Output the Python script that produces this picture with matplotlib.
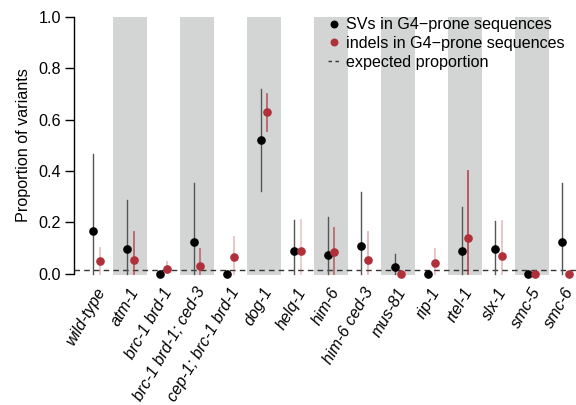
import matplotlib
matplotlib.use("Agg")
import matplotlib.pyplot as plt
import matplotlib.transforms as mtransforms
import numpy as np

plt.rcParams['font.family'] = ['Liberation Sans', 'DejaVu Sans']

genotypes = ['wild-type', 'atm-1', 'brc-1 brd-1', 'brc-1 brd-1; ced-3',
             'cep-1; brc-1 brd-1', 'dog-1', 'helq-1', 'him-6', 'him-6 ced-3',
             'mus-81', 'rip-1', 'rtel-1', 'slx-1', 'smc-5', 'smc-6']

# SVs in G4-prone sequences: proportion and interval
sv_prop = [0.165, 0.098, 0.0, 0.126, 0.0, 0.519, 0.091, 0.075, 0.110,
           0.028, 0.0, 0.091, 0.098, 0.0, 0.125]
sv_low = [0.0, 0.0, 0.0, 0.0, 0.0, 0.323, 0.0, 0.0, 0.0,
          0.0, 0.0, 0.0, 0.0, 0.0, 0.0]
sv_high = [0.466, 0.288, 0.0, 0.355, 0.0, 0.719, 0.210, 0.222, 0.318,
           0.078, 0.0, 0.262, 0.207, 0.0, 0.355]

# indels in G4-prone sequences
indel_prop = [0.052, 0.056, 0.018, 0.032, 0.067, 0.628, 0.091, 0.087, 0.056,
              0.0, 0.042, 0.141, 0.071, 0.0, 0.0]
indel_low = [0.0, 0.0, 0.003, 0.0, 0.0, 0.556, 0.0, 0.0, 0.0,
             0.0, 0.0, 0.0, 0.0, 0.0, 0.0]
indel_high = [0.100, 0.162, 0.047, 0.098, 0.145, 0.700, 0.210, 0.178, 0.162,
              0.0, 0.097, 0.402, 0.207, 0.0, 0.0]
indel_alpha = [0.3, 0.7, 0.3, 0.6, 0.3, 0.7, 0.25, 0.65, 0.35,
               0.3, 0.3, 0.8, 0.3, 0.3, 0.3]

expected = 0.016

red = '#b0303a'
band = '#d3d4d4'
fs = 11.6

fig = plt.figure(figsize=(5.76, 4.05), dpi=100)
ax = fig.add_axes([74/576, 0.3109, 1 - 74/576, 0.6607])

x = np.arange(len(genotypes))
off = 0.1

# alternating grey bands
for i in x[1::2]:
    ax.axvspan(i - 0.5, i + 0.5, ymin=(-0.004 + 0.02) / 1.04, ymax=1.02 / 1.04,
               color=band, lw=0, zorder=0)

ax.axhline(expected, color='#333333', lw=1, ls=(0, (4, 3)), zorder=1)

for i in x:
    if sv_high[i] > sv_low[i]:
        ax.plot([i - off, i - off], [sv_low[i], sv_high[i]], color='#555555',
                lw=1, zorder=2)
    if indel_high[i] > indel_low[i]:
        ax.plot([i + off, i + off], [indel_low[i], indel_high[i]], color=red,
                alpha=indel_alpha[i], lw=1.3, zorder=2)

ax.plot(x - off, sv_prop, 'o', color='black', ms=5.2, zorder=3, clip_on=False,
        label='SVs in G4\u2212prone sequences')
ax.plot(x + off, indel_prop, 'o', color=red, ms=5.2, zorder=3, clip_on=False,
        label='indels in G4\u2212prone sequences')
ax.plot([], [], color='#333333', lw=1, ls=(0, (2.5, 2.5)), label='expected proportion')

ax.set_xlim(-0.678, 14.32)
ax.set_ylim(-0.02, 1.02)

for s in ['top', 'right', 'bottom']:
    ax.spines[s].set_visible(False)
ax.spines['left'].set_bounds(0, 1)
ax.spines['left'].set_linewidth(1)

ax.set_yticks(np.arange(0, 1.01, 0.2))
ax.set_yticklabels(['%.1f' % v for v in np.arange(0, 1.01, 0.2)])
ax.tick_params(axis='y', length=6.5, width=1, pad=3, labelsize=fs)
ax.set_ylabel('Proportion of variants', fontsize=fs, labelpad=5)

ax.set_xticks(x)
ax.set_xticklabels(genotypes, rotation=60, ha='right', va='center',
                   rotation_mode='anchor', fontsize=fs, style='italic')
ax.tick_params(axis='x', length=0, pad=7)
shift = mtransforms.ScaledTranslation(3.5 / 72, 0, fig.dpi_scale_trans)
for lab in ax.get_xticklabels():
    lab.set_transform(lab.get_transform() + shift)

fig.legend(loc='upper left', bbox_to_anchor=(328/576, 1 - 17.5/405), frameon=False,
           fontsize=fs, handlelength=0.72, handletextpad=0.42, labelspacing=0.22,
           borderpad=0, borderaxespad=0, markerscale=0.9)

fig.savefig('out.png', dpi=100)
